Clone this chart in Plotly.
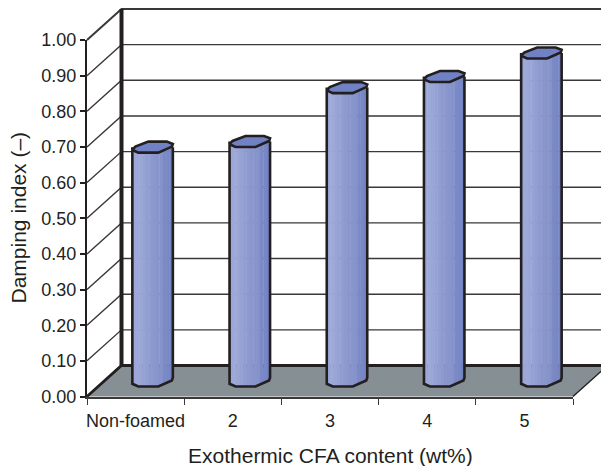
import numpy as np
import plotly.graph_objects as go

# Chart data
categories = ["Non-foamed", "2", "3", "4", "5"]
damping_index = [0.656, 0.672, 0.823, 0.854, 0.920]
y_ticks = [0.0, 0.1, 0.2, 0.3, 0.4, 0.5, 0.6, 0.7, 0.8, 0.9, 1.0]

# Pixel scale of the front face of the box
WIDTH, HEIGHT = 601, 466
LEFT, RIGHT_EDGE = 87.0, 573.0
TOP, BOTTOM = 40.0, 396.5
PX_X = (RIGHT_EDGE - LEFT) / len(categories)
PX_Y = BOTTOM - TOP

# Oblique depth of the 3-D box, in axis units
DEPTH_X = 34.5 / PX_X
DEPTH_Y = 31.0 / PX_Y
BAR_DEPTH = 0.5

# Octagonal column section around its centre (px, y grows downward)
cap_x = np.array([-20.5, -17.5, -4.5, 14.0, 20.0, 19.0, 5.5, -14.5])
cap_y = np.array([2.8, -0.5, -5.5, -5.5, -3.2, -0.5, 5.5, 5.5])
front_x = np.array([-20.5, -14.5, 5.5, 19.0, 20.0])
front_y = np.array([2.8, 5.5, 5.5, -0.5, -3.2])

# Shading bands across a column, left to right
band_colors = ["#9ba7d7", "#9ea9d9", "#9aa6d6", "#96a2d3", "#919ed1", "#8d9acf",
               "#8a97cc", "#8895cc", "#8693cb", "#7b8ac7", "#7888c6", "#7384c3"]
CAP_COLOR = "#7082c4"
INK = "#231f20"
GRID = "#3a3839"
FLOOR = "#868f93"
FONT = "Liberation Sans"


def depth_point(x, y, f):
    return x + f * DEPTH_X, y + f * DEPTH_Y


fig = go.Figure()


def poly(xs, ys, fill=None, line=None, width=0):
    fig.add_trace(go.Scatter(
        x=xs, y=ys, mode="lines", hoverinfo="skip", showlegend=False,
        fill="toself" if fill else "none", fillcolor=fill,
        line=dict(color=line or "rgba(0,0,0,0)", width=width),
    ))


n_cat = len(categories)

# Floor of the box
poly([0, n_cat, n_cat + DEPTH_X, DEPTH_X, 0], [0, 0, DEPTH_Y, DEPTH_Y, 0], fill=FLOOR)

# Gridlines on the side and back walls
for v in y_ticks[1:]:
    width = 2.0 if v == 1.0 else 1.4
    poly([0, DEPTH_X, n_cat + DEPTH_X], [v, v + DEPTH_Y, v + DEPTH_Y], line=GRID, width=width)

# Box edges
poly([DEPTH_X, DEPTH_X], [DEPTH_Y, 1 + DEPTH_Y], line=INK, width=4)
poly([0, DEPTH_X, n_cat + DEPTH_X], [0, DEPTH_Y, DEPTH_Y], line=INK, width=2.8)
poly([n_cat, n_cat + DEPTH_X], [0, DEPTH_Y], line=INK, width=1.4)

# Columns: shaded bands, outline, then the top cap
edges = np.linspace(front_x[0], front_x[-1], len(band_colors) + 1)
for i, value in enumerate(damping_index):
    cx, base = depth_point(i + 0.5, 0.0, BAR_DEPTH)
    top = base + value
    for k, color in enumerate(band_colors):
        px = np.array([edges[k], edges[k + 1] + 0.4])
        off = np.interp(px, front_x, front_y)
        xs = cx + px / PX_X
        poly([xs[0], xs[1], xs[1], xs[0], xs[0]],
             [top - off[0] / PX_Y, top - off[1] / PX_Y,
              base - off[1] / PX_Y, base - off[0] / PX_Y, top - off[0] / PX_Y],
             fill=color)
    sil_x = np.concatenate(([front_x[0]], front_x, [front_x[-1]]))
    sil_y = np.concatenate(([top], base - front_y / PX_Y, [top]))
    poly(cx + sil_x / PX_X, sil_y, line=INK, width=2.6)
    poly(cx + np.append(cap_x, cap_x[0]) / PX_X,
         top - np.append(cap_y, cap_y[0]) / PX_Y,
         fill=CAP_COLOR, line=INK, width=2.6)

# Empty trace so the front-face axes get their own subplot
fig.add_trace(go.Scatter(x=[None], y=[None], xaxis="x2", yaxis="y2",
                         hoverinfo="skip", showlegend=False))

tick_font = dict(family=FONT, size=18, color=INK)
fig.update_layout(
    width=WIDTH, height=HEIGHT, autosize=False, showlegend=False,
    paper_bgcolor="white", plot_bgcolor="rgba(0,0,0,0)",
    margin=dict(l=0, r=0, t=0, b=0, pad=0, autoexpand=False),
    # Full-canvas axes in the same units as the front face, carrying the box and columns
    xaxis=dict(domain=[0, 1], range=[-LEFT / PX_X, (WIDTH - LEFT) / PX_X], visible=False),
    yaxis=dict(domain=[0, 1], range=[(BOTTOM - HEIGHT) / PX_Y, BOTTOM / PX_Y], visible=False),
    # Visible axes along the front face
    xaxis2=dict(
        domain=[LEFT / WIDTH, RIGHT_EDGE / WIDTH], anchor="y2",
        range=[0, n_cat], showgrid=False, zeroline=False,
        showline=True, linecolor=GRID, linewidth=2,
        tickmode="array", tickvals=[i + 0.5 for i in range(n_cat)], ticktext=categories,
        ticks="", tickfont=tick_font, ticklabelstandoff=7,
        minor=dict(tickmode="array", tickvals=list(range(n_cat + 1)), ticks="outside",
                   ticklen=6, tickwidth=1.4, tickcolor=GRID, showgrid=False),
    ),
    yaxis2=dict(
        domain=[(HEIGHT - BOTTOM) / HEIGHT, (HEIGHT - TOP) / HEIGHT], anchor="x2",
        range=[0, 1], showgrid=False, zeroline=False,
        showline=True, linecolor=INK, linewidth=2,
        tickmode="array", tickvals=y_ticks, ticktext=[f"{v:.2f}" for v in y_ticks],
        ticks="outside", ticklen=5, tickwidth=1.6, tickcolor=INK,
        tickfont=tick_font, ticklabelstandoff=0,
    ),
    annotations=[
        dict(text="Exothermic CFA content (wt%)", xref="paper", yref="paper",
             x=330 / WIDTH, y=(HEIGHT - 455) / HEIGHT,
             showarrow=False, xanchor="center", yanchor="middle",
             font=dict(family=FONT, size=21, color=INK)),
        dict(text="Damping index (–)", xref="paper", yref="paper",
             x=17.5 / WIDTH, y=(HEIGHT - 218) / HEIGHT, textangle=-90,
             showarrow=False, xanchor="center", yanchor="middle",
             font=dict(family=FONT, size=21, color=INK)),
    ],
)
fig.write_html("out.html")
